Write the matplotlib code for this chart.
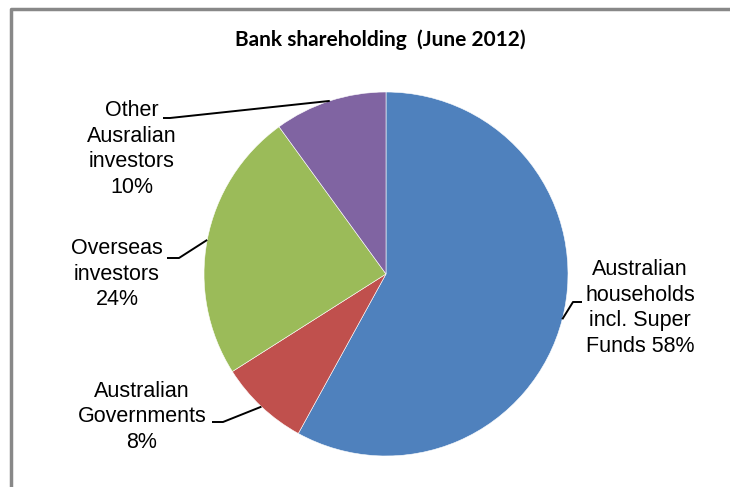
import matplotlib.pyplot as plt
import numpy as np

# shareholding split, clockwise from 12 o'clock
labels = ['Australian\nhouseholds\nincl. Super\nFunds 58%',
          'Australian\nGovernments\n8%',
          'Overseas\ninvestors\n24%',
          'Other\nAusralian\ninvestors\n10%']
shares = [58, 8, 24, 10]
colors = ['#4F81BD', '#C0504D', '#9BBB59', '#8064A2']

# label centres and the start of each leader line (figure pixels, y down)
label_pos = [(640, 308), (142, 417), (117, 274), (132, 149)]
leader_start = [(582, 302), (212, 422), (167, 258), (163, 118)]
leader_knee = [(573, 302), (223, 422), (179, 258), (170, 118)]

W, H = 730, 487
cx, cy, r = 386, 274, 182

fig = plt.figure(figsize=(W / 100, H / 100), dpi=100)
ax = fig.add_axes([0, 0, 1, 1])

wedges, _ = ax.pie(shares, colors=colors, startangle=90, counterclock=False,
                   center=(cx, H - cy), radius=r, frame=True,
                   wedgeprops=dict(linewidth=0.4, edgecolor='white'))
ax.set_xlim(0, W)
ax.set_ylim(0, H)
ax.set_axis_off()

for w, lab, (lx, ly), (sx, sy), (kx, ky) in zip(wedges, labels, label_pos,
                                               leader_start, leader_knee):
    mid = np.deg2rad((w.theta1 + w.theta2) / 2)
    ex, ey = cx + r * np.cos(mid), (H - cy) + r * np.sin(mid)
    ax.plot([sx, kx, ex], [H - sy, H - ky, ey], color='black', lw=1.4,
            solid_capstyle='butt')
    ax.text(lx, H - ly, lab, ha='center', va='center', fontsize=15.5,
            family='Liberation Sans', linespacing=1.28)

ax.text(380, H - 40, 'Bank shareholding  (June 2012)', ha='center', va='center',
        fontsize=15, fontweight='bold', family='Lato')

# chart area border (runs off the right and bottom edges)
ax.plot([10.5, 10.5, W + 5], [-5, H - 8.5, H - 8.5], color='#888888', lw=2.5,
        clip_on=False)

fig.savefig('out.png', dpi=100)
